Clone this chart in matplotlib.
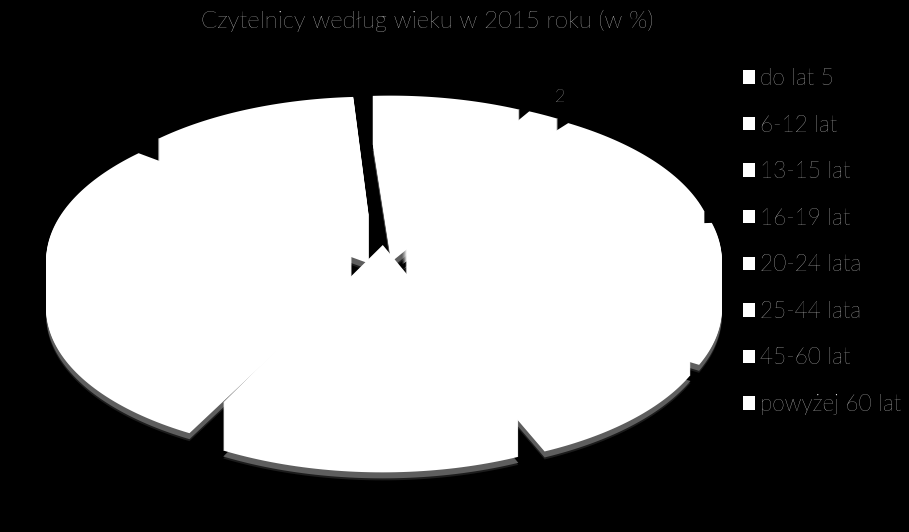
import matplotlib
matplotlib.use('Agg')
import matplotlib.pyplot as plt
from matplotlib.patches import Patch
from matplotlib.path import Path
from matplotlib.transforms import Affine2D, Transform
import numpy as np

title = 'Czytelnicy według wieku w 2015 roku (w %)'
groups = ['do lat 5', '6-12 lat', '13-15 lat', '16-19 lat', '20-24 lata',
          '25-44 lata', '45-60 lat', 'powyżej 60 lat']
values = [9.5, 2, 13.5, 10, 10, 13.4, 28.1, 13.5]

plt.rcParams['font.family'] = ['Lato', 'DejaVu Sans']


# tilted view of the pie: the front is nearer so it comes out bigger
class Tilt(Transform):
    input_dims = 2
    output_dims = 2
    is_separable = False
    has_inverse = False

    def transform_non_affine(self, pts):
        pts = np.asarray(pts, dtype=float)
        w = 1 + 0.169 * pts[:, 1]
        return np.column_stack([384 + 299 * pts[:, 0] / w, 229 - 143 * pts[:, 1] / w])

    def transform_path_non_affine(self, path):
        # break the curves up first, a straight edge stays straight enough
        pts = [b(np.linspace(0, 1, 24)) for b, code in path.iter_bezier() if code != Path.MOVETO]
        return Path(self.transform_non_affine(np.vstack(pts)))


fig = plt.figure(figsize=(9.09, 5.32), dpi=100, facecolor='black')
ax = fig.add_axes([0, 0, 1, 1])

tilt = Tilt()


def layer(drop, color):
    wedges, _ = ax.pie(values, startangle=94, counterclock=False, colors=[color] * len(values),
                       explode=[0.11] * len(values), normalize=True)
    for w in wedges:
        w.set_transform(tilt + Affine2D().translate(0, drop) + ax.transData)
        w.set_clip_on(False)


layer(56, '#1c1c1c')
layer(54, '#5e5e5e')
for d in range(48, -1, -1):
    layer(d, 'white')

ax.set_aspect('auto')
ax.set_xlim(0, 909)
ax.set_ylim(532, 0)
ax.axis('off')

ax.text(427, 21, title, color='white', fontsize=17.2, ha='center', va='center', fontweight='light')
ax.text(560, 97, '2', color='white', fontsize=13, ha='center', va='center', fontweight='light')

handles = [Patch(facecolor='white', label=g) for g in groups]
leg = ax.legend(handles=handles, loc='upper left', bbox_to_anchor=(743 / 909, 1 - 68 / 532),
                frameon=False, labelcolor='white', handlelength=0.53, handleheight=0.53,
                handletextpad=0.2, labelspacing=1.13, borderpad=0, borderaxespad=0,
                prop={'size': 16.3, 'weight': 'light'})

fig.savefig('out.png', dpi=100, facecolor='black')
